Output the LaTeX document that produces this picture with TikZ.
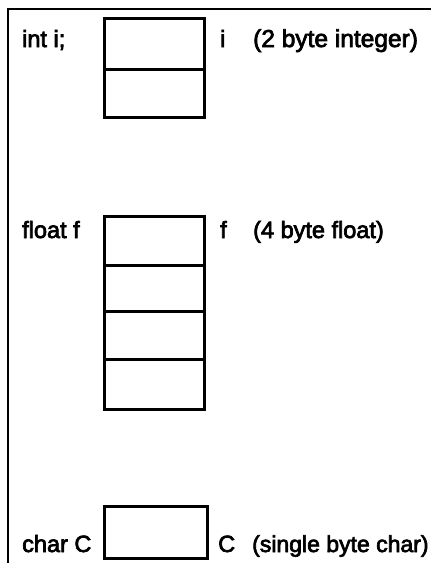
\documentclass[tikz,border=0pt]{standalone}
\usepackage{fontspec}
\setmainfont{Liberation Sans}
\newfontfamily\lblfont[FakeBold=3]{Liberation Sans}
\begin{document}
\begin{tikzpicture}[x=1pt,y=-1pt,
  cell/.style={draw,line width=2.6pt,rectangle,inner sep=0pt,minimum width=100pt,anchor=north west},
  lbl/.style={anchor=base west,inner sep=0pt,font=\fontsize{23.5}{28}\lblfont}]
\useasboundingbox (0,0) rectangle (431,563);
\fill[white] (0,0) rectangle (431,563);
\coordinate (fbot) at (8,563);
\coordinate (ftl) at (8,9);
\coordinate (fr) at (431,9);
\draw[line width=2pt] (fbot) -- (ftl) -- (fr);
% int
\node[cell,minimum height=51pt] (i1) at (103,17) {};
\node[cell,minimum height=48pt] (i2) at (103,68) {};
\node[lbl] (tint) at (22,47) {int i;};
\node[lbl] (ti) at (220,47) {i};
\node[lbl,font=\fontsize{24.5}{28}\lblfont] (tid) at (253,47) {(2 byte integer)};
% float
\node[cell,minimum height=49pt] (f1) at (103,215) {};
\node[cell,minimum height=46pt] (f2) at (103,264) {};
\node[cell,minimum height=48pt] (f3) at (103,310) {};
\node[cell,minimum height=50pt] (f4) at (103,358) {};
\node[lbl] (tfl) at (22,238) {float f};
\node[lbl] (tf) at (220,238) {f};
\node[lbl] (tfd) at (253,238) {(4 byte float)};
% char
\node[cell,minimum width=103pt,minimum height=52pt] (c1) at (103,505) {};
\node[lbl] (tch) at (22,552) {char C};
\node[lbl] (tc) at (218,552) {C};
\node[lbl,font=\fontsize{23}{28}\lblfont] (tcd) at (252,552) {(single byte char)};
\end{tikzpicture}
\end{document}
